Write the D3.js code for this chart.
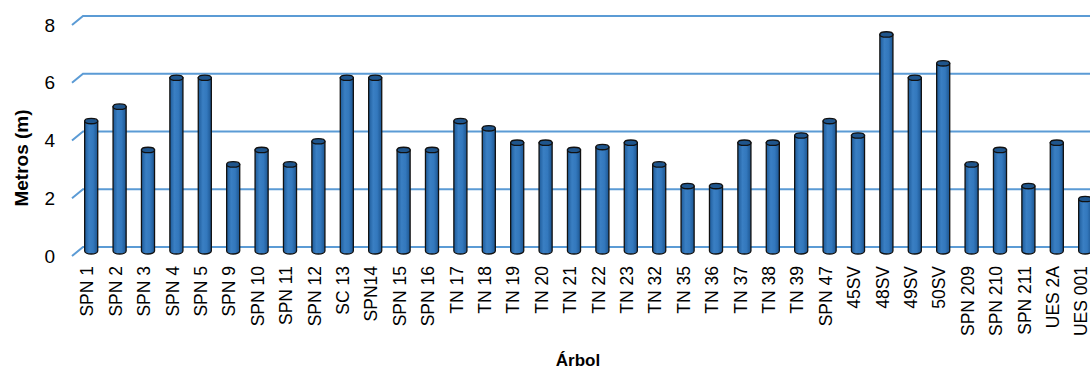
<!DOCTYPE html>
<html>
<head>
<meta charset="utf-8">
<script src="https://cdn.jsdelivr.net/npm/d3@7"></script>
<style>
  body { margin: 0; background: #fff; }
  text { font-family: "Liberation Sans", Arial, sans-serif; }
</style>
</head>
<body>
<div id="chart"></div>
<script>
// data
var arboles = ["SPN 1", "SPN 2", "SPN 3", "SPN 4", "SPN 5", "SPN 9", "SPN 10", "SPN 11", "SPN 12",
  "SC 13", "SPN14", "SPN 15", "SPN 16", "TN 17", "TN 18", "TN 19", "TN 20", "TN 21", "TN 22",
  "TN 23", "TN 32", "TN 35", "TN 36", "TN 37", "TN 38", "TN 39", "SPN 47", "45SV", "48SV",
  "49SV", "50SV", "SPN 209", "SPN 210", "SPN 211", "UES 2A", "UES 001"];
var metros = [4.5, 5.0, 3.5, 6.0, 6.0, 3.0, 3.5, 3.0, 3.8,
  6.0, 6.0, 3.5, 3.5, 4.5, 4.25, 3.75, 3.75, 3.5, 3.6,
  3.75, 3.0, 2.25, 2.25, 3.75, 3.75, 4.0, 4.5, 4.0, 7.5,
  6.0, 6.5, 3.0, 3.5, 2.25, 3.75, 1.8];
var yTicks = [0, 2, 4, 6, 8];

var svgWidth = 1090;
var svgHeight = 370;

// depth offsets of the 3d wall
var depthX = 11, depthY = 9;

var svg = d3.select("#chart")
  .append("svg")
  .attr("width", svgWidth)
  .attr("height", svgHeight);

var defs = svg.append("defs");
var grad = defs.append("linearGradient")
  .attr("id", "cyl")
  .attr("x1", "0%").attr("x2", "100%").attr("y1", "0%").attr("y2", "0%");
grad.append("stop").attr("offset", "0%").attr("stop-color", "#1e5b99");
grad.append("stop").attr("offset", "35%").attr("stop-color", "#3a7fc3");
grad.append("stop").attr("offset", "65%").attr("stop-color", "#3378bd");
grad.append("stop").attr("offset", "100%").attr("stop-color", "#1c5590");

// back wall scale
var yScale = d3.scaleLinear()
  .domain([0, 8])
  .range([247, 16]);

var xScale = d3.scaleBand()
  .domain(arboles)
  .range([77, 77 + 36 * 28.4])
  .paddingInner(0.54)
  .paddingOuter(0.27);

// gridlines: slanted front edge + back wall line
var grid = svg.append("g");
yTicks.forEach(function(t) {
  var yb = yScale(t);
  grid.append("path")
    .attr("d", "M72," + (yb + depthY) + "L" + (72 + depthX) + "," + yb + "L" + svgWidth + "," + yb)
    .attr("fill", "none")
    .attr("stroke", "#5b9bd5")
    .attr("stroke-width", 2);
});

// y tick labels
svg.append("g").selectAll("text")
  .data(yTicks)
  .enter()
  .append("text")
  .attr("x", 55)
  .attr("y", d => yScale(d) + depthY)
  .attr("dy", "0.35em")
  .attr("text-anchor", "end")
  .style("font-size", "19px")
  .text(d => d);

// cylinders
var bw = xScale.bandwidth();
var rx = bw / 2, ry = 3;
var bars = svg.append("g").selectAll("g")
  .data(arboles)
  .enter()
  .append("g");

bars.append("path")
  .attr("d", function(d, i) {
    var x0 = xScale(d), x1 = x0 + bw;
    var top = yScale(metros[i]) + 4;
    var bot = yScale(0) + 4;
    return "M" + x0 + "," + top + "L" + x0 + "," + bot +
      "A" + rx + "," + ry + " 0 0 0 " + x1 + "," + bot +
      "L" + x1 + "," + top + "Z";
  })
  .attr("fill", "url(#cyl)")
  .attr("stroke", "#111")
  .attr("stroke-width", 1.3);

bars.append("ellipse")
  .attr("cx", d => xScale(d) + bw / 2)
  .attr("cy", (d, i) => yScale(metros[i]) + 4)
  .attr("rx", rx)
  .attr("ry", ry - 0.3)
  .attr("fill", "#1f558c")
  .attr("stroke", "#111")
  .attr("stroke-width", 1.3);

// x labels (aligned with the front edge, a bit left of the bars)
svg.append("g").selectAll("text")
  .data(arboles)
  .enter()
  .append("text")
  .attr("transform", d => "translate(" + (xScale(d) + bw / 2 - 4) + ",266) rotate(-90)")
  .attr("dy", "0.35em")
  .attr("text-anchor", "end")
  .style("font-size", "17.5px")
  .text(d => d);

// axis titles
svg.append("text")
  .attr("transform", "translate(28,158) rotate(-90)")
  .attr("text-anchor", "middle")
  .style("font-size", "19px")
  .style("font-weight", "bold")
  .text("Metros (m)");

svg.append("text")
  .attr("x", 578)
  .attr("y", 366)
  .attr("text-anchor", "middle")
  .style("font-size", "17px")
  .style("font-weight", "bold")
  .text("Árbol");
</script>
</body>
</html>
